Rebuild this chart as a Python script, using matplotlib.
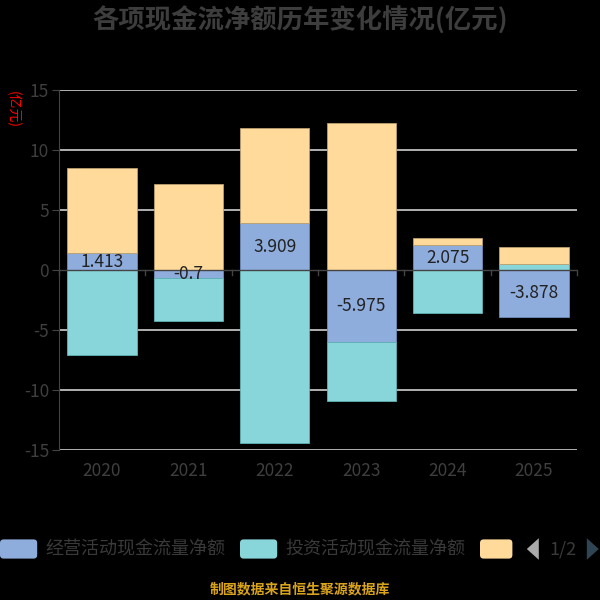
import numpy as np
import matplotlib
matplotlib.use('Agg')
import matplotlib.pyplot as plt
from matplotlib.patches import FancyBboxPatch, Polygon

plt.rcParams['font.family'] = ['Noto Sans CJK SC', 'DejaVu Sans']

years = ['2020', '2021', '2022', '2023', '2024', '2025']
operating = [1.413, -0.7, 3.909, -5.975, 2.075, -3.878]
investing = [-7.09, -3.58, -14.39, -4.94, -3.61, 0.47]
financing = [7.09, 7.19, 7.95, 12.25, 0.59, 1.45]
series_names = ['经营活动现金流量净额', '投资活动现金流量净额', '']
colors = ['#8eacdc', '#88d6da', '#ffda9a']
edges = ['#6f8cba', '#5fb3b7', '#b9a070']
yticks = [-15, -10, -5, 0, 5, 10, 15]

fig = plt.figure(figsize=(6, 6), dpi=100, facecolor='black')
ax = fig.add_axes([0.098, 0.25, 0.864, 0.60])
ax.set_facecolor('black')

x = np.arange(len(years))
pos_base = np.zeros(len(years))
neg_base = np.zeros(len(years))
for vals, c, ec in zip([operating, investing, financing], colors, edges):
    v = np.array(vals)
    bottom = np.where(v >= 0, pos_base, neg_base)
    ax.bar(x, v, 0.8, bottom=bottom, color=c, edgecolor=ec, linewidth=0.6, zorder=3)
    pos_base = pos_base + np.where(v >= 0, v, 0)
    neg_base = neg_base + np.where(v < 0, v, 0)

# labels on operating segment
for xi, v in zip(x, operating):
    ax.text(xi, v / 2, f'{v:g}', ha='center', va='center', fontsize=12.5,
            color='#222222', zorder=5)

ax.set_xlim(-0.5, len(years) - 0.5)
ax.set_ylim(-15, 15)
ax.set_yticks(yticks)
ax.set_yticklabels([str(t) for t in yticks], fontsize=12.5, color='#3f3f3f')
for t in yticks:
    if t != 0:
        ax.axhline(t, color='#cfcfcf', linewidth=1.2, zorder=1)

ax.set_xticks(x)
ax.set_xticklabels(years, fontsize=12.5, color='#3f3f3f')
ax.tick_params(axis='x', length=0, pad=9)
ax.tick_params(axis='y', length=5, color='#444444', pad=2)

for s in ['top', 'right', 'bottom']:
    ax.spines[s].set_visible(False)
ax.spines['left'].set_color('#444444')
ax.axhline(0, color='#444444', linewidth=1, zorder=4)
# category boundary ticks on the zero line
for b in np.arange(-0.5, len(years), 1.0):
    ax.plot([b, b], [0, -0.42], color='#444444', linewidth=1, zorder=4, clip_on=False)

fig.text(0.5, 0.965, '各项现金流净额历年变化情况(亿元)', ha='center', va='center',
         fontsize=19, fontweight='bold', color='#3d3d3d')
fig.text(0.021, 0.818, '(亿元)', ha='center', va='center', rotation=-90,
         fontsize=10, color='#ff0000')

# legend
leg_y = 0.085
boxes = [(0.0, 0.062), (0.40, 0.062), (0.80, 0.054)]
for (bx, bw), c, name in zip(boxes, colors, series_names):
    fig.add_artist(FancyBboxPatch((bx, leg_y - 0.016), bw, 0.032,
                                  boxstyle='round,pad=0,rounding_size=0.006',
                                  facecolor=c, edgecolor='none', transform=fig.transFigure))
    if name:
        fig.text(bx + bw + 0.013, leg_y, name, ha='left', va='center',
                 fontsize=13, color='#3a3a3a')
fig.add_artist(Polygon([[0.898, leg_y - 0.018], [0.898, leg_y + 0.018], [0.878, leg_y]],
                       closed=True, facecolor='#aaaaaa', edgecolor='none',
                       transform=fig.transFigure))
fig.text(0.938, leg_y, '1/2', ha='center', va='center', fontsize=13, color='#3a3a3a')
fig.add_artist(Polygon([[0.978, leg_y - 0.018], [0.978, leg_y + 0.018], [0.998, leg_y]],
                       closed=True, facecolor='#2f4554', edgecolor='none',
                       transform=fig.transFigure))

fig.text(0.5, 0.017, '制图数据来自恒生聚源数据库', ha='center', va='center',
         fontsize=10, color='#d9a31c', fontweight='bold')

fig.savefig('out.png', dpi=100, facecolor='black')
